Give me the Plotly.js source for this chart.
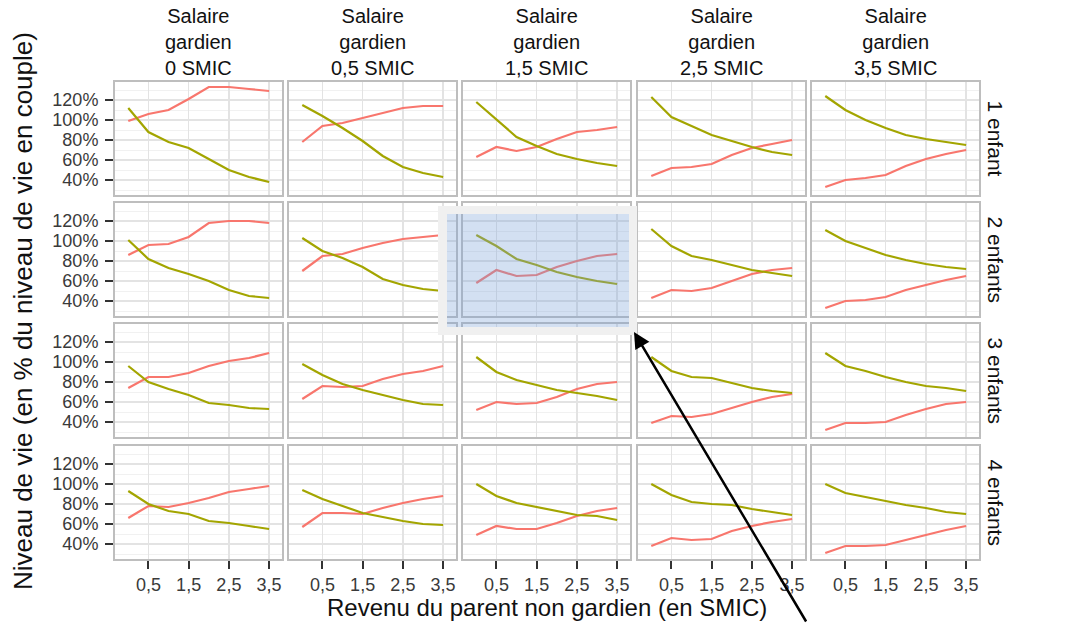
<!DOCTYPE html>
<html>
<head>
<meta charset="utf-8">
<script src="https://cdn.plot.ly/plotly-3.0.1.min.js"></script>
<style>
  html, body { margin: 0; padding: 0; background: #ffffff; }
  #chart { width: 1071px; height: 623px; }
</style>
</head>
<body>
<div id="chart"></div>
<script>
// ---------- DATA ----------
const revenuNonGardien = [0, 0.5, 1, 1.5, 2, 2.5, 3, 3.5];
const colonnes = ["Salaire<br>gardien<br>0 SMIC", "Salaire<br>gardien<br>0,5 SMIC", "Salaire<br>gardien<br>1,5 SMIC", "Salaire<br>gardien<br>2,5 SMIC", "Salaire<br>gardien<br>3,5 SMIC"];
const lignes = ["1 enfant", "2 enfants", "3 enfants", "4 enfants"];
const xTickVals = [0.5, 1.5, 2.5, 3.5];
const xTickText = ["0,5", "1,5", "2,5", "3,5"];
const yTickVals = [40, 60, 80, 100, 120];
const yTickText = ["40%", "60%", "80%", "100%", "120%"];

// Niveau de vie du parent non gardien (rouge), une liste par colonne
const nonGardien_1enfant = [
  [99, 106, 110, 121, 133, 133, 131, 129],
  [78, 94, 97, 102, 107, 112, 114, 114],
  [63, 73, 69, 73, 81, 88, 90, 93],
  [44, 52, 53, 56, 65, 72, 76, 80],
  [33, 40, 42, 45, 54, 61, 66, 70]
];
const nonGardien_2enfants = [
  [86, 96, 97, 104, 118, 120, 120, 118],
  [70, 85, 87, 93, 98, 102, 104, 106],
  [58, 71, 65, 66, 74, 80, 85, 87],
  [43, 51, 50, 53, 60, 67, 71, 73],
  [33, 40, 41, 44, 51, 56, 61, 65]
];
const nonGardien_3enfants = [
  [74, 85, 85, 89, 96, 101, 104, 109],
  [63, 76, 75, 76, 83, 88, 91, 96],
  [52, 60, 58, 59, 65, 73, 78, 80],
  [39, 46, 45, 48, 54, 60, 65, 68],
  [32, 39, 39, 40, 47, 53, 58, 60]
];
const nonGardien_4enfants = [
  [66, 78, 77, 81, 86, 92, 95, 98],
  [57, 71, 71, 70, 76, 81, 85, 88],
  [49, 58, 55, 55, 61, 68, 73, 76],
  [38, 46, 44, 45, 53, 58, 62, 65],
  [31, 38, 38, 39, 44, 49, 54, 58]
];
// Niveau de vie du parent gardien (olive)
const gardien_1enfant = [
  [112, 88, 78, 72, 61, 50, 43, 38],
  [115, 104, 92, 79, 64, 53, 47, 43],
  [118, 100, 83, 74, 66, 61, 57, 54],
  [123, 103, 94, 85, 79, 73, 68, 65],
  [124, 110, 100, 92, 85, 81, 78, 75]
];
const gardien_2enfants = [
  [101, 82, 73, 67, 60, 51, 45, 43],
  [103, 90, 83, 74, 62, 56, 52, 50],
  [106, 95, 82, 76, 69, 64, 60, 57],
  [112, 95, 85, 81, 76, 71, 68, 65],
  [111, 100, 93, 86, 81, 77, 74, 72]
];
const gardien_3enfants = [
  [96, 80, 73, 67, 59, 57, 54, 53],
  [98, 87, 78, 72, 67, 62, 58, 57],
  [105, 90, 82, 77, 72, 69, 66, 62],
  [105, 91, 85, 84, 79, 74, 71, 69],
  [109, 96, 91, 85, 80, 76, 74, 71]
];
const gardien_4enfants = [
  [93, 80, 73, 70, 63, 61, 58, 55],
  [94, 85, 78, 71, 67, 63, 60, 59],
  [100, 88, 81, 77, 73, 69, 68, 64],
  [100, 89, 82, 80, 79, 75, 72, 69],
  [100, 91, 87, 83, 79, 76, 72, 70]
];

// ---------- LAYOUT ----------
const W = 1071, H = 623;
const FONT = "Liberation Sans, Arial, sans-serif";
const px = v => v / W;
const py = v => 1 - v / H;
const colLeft = [115, 289, 463, 638, 812];
const colW = 167;
const rowTop = [82, 203, 324, 446];
const rowH = 113;

const nonGardien = [nonGardien_1enfant, nonGardien_2enfants, nonGardien_3enfants, nonGardien_4enfants];
const gardien = [gardien_1enfant, gardien_2enfants, gardien_3enfants, gardien_4enfants];

const RED = "#F8766D", OLIVE = "#A3A500";
const traces = [];
const layout = {
  width: W, height: H,
  margin: {l: 0, r: 0, t: 0, b: 0},
  paper_bgcolor: "#ffffff",
  plot_bgcolor: "#ffffff",
  showlegend: false,
  font: {family: FONT, color: "#000"},
  annotations: [],
  shapes: []
};

for (let r = 0; r < 4; r++) {
  for (let c = 0; c < 5; c++) {
    const n = r * 5 + c + 1;
    const xs = n === 1 ? "x" : "x" + n;
    const ys = n === 1 ? "y" : "y" + n;
    traces.push({x: revenuNonGardien, y: nonGardien[r][c], xaxis: xs, yaxis: ys,
      type: "scatter", mode: "lines", line: {color: RED, width: 2.2}, hoverinfo: "skip"});
    traces.push({x: revenuNonGardien, y: gardien[r][c], xaxis: xs, yaxis: ys,
      type: "scatter", mode: "lines", line: {color: OLIVE, width: 2.2}, hoverinfo: "skip"});
    const xk = n === 1 ? "xaxis" : "xaxis" + n;
    const yk = n === 1 ? "yaxis" : "yaxis" + n;
    layout[xk] = {
      domain: [px(colLeft[c]), px(colLeft[c] + colW)],
      anchor: ys, range: [-0.33, 3.82],
      tickvals: xTickVals, ticktext: xTickText,
      showticklabels: r === 3, ticks: r === 3 ? "outside" : "",
      ticklen: 8, tickwidth: 2, tickcolor: "#333",
      tickfont: {family: FONT, size: 18, color: "#3a3a3a"},
      showgrid: true, gridcolor: "#E3E3E3", gridwidth: 1.4,
      zeroline: false, showline: true, linecolor: "#BEBEBE", linewidth: 2, mirror: true,
      fixedrange: true
    };
    layout[yk] = {
      domain: [py(rowTop[r] + rowH), py(rowTop[r])],
      anchor: xs, range: [25, 138],
      tickvals: yTickVals, ticktext: yTickText,
      showticklabels: c === 0, ticks: c === 0 ? "outside" : "",
      ticklen: 8, tickwidth: 2, tickcolor: "#333", ticklabelstandoff: 3,
      tickfont: {family: FONT, size: 18, color: "#3a3a3a"},
      showgrid: true, gridcolor: "#E3E3E3", gridwidth: 1.4,
      minor: {tickvals: [30, 50, 70, 90, 110, 130], showgrid: true, gridcolor: "#F1F1F1", gridwidth: 1, ticks: ""},
      zeroline: false, showline: true, linecolor: "#BEBEBE", linewidth: 2, mirror: true,
      fixedrange: true
    };
  }
}

// column strip labels
for (let c = 0; c < 5; c++) {
  layout.annotations.push({
    text: colonnes[c], xref: "paper", yref: "paper",
    x: px(colLeft[c] + colW / 2), y: py(42), xanchor: "center", yanchor: "middle",
    showarrow: false, font: {family: FONT, size: 20, color: "#111"}
  });
}
// row strip labels
for (let r = 0; r < 4; r++) {
  layout.annotations.push({
    text: lignes[r], xref: "paper", yref: "paper",
    x: px(995), y: py(rowTop[r] + rowH / 2), xanchor: "center", yanchor: "middle",
    textangle: 90, showarrow: false, font: {family: FONT, size: 21, color: "#111"}
  });
}
// axis titles
layout.annotations.push({
  text: "Revenu du parent non gardien (en SMIC)", xref: "paper", yref: "paper",
  x: px(547), y: py(607), xanchor: "center", yanchor: "middle",
  showarrow: false, font: {family: FONT, size: 24, color: "#111"}
});
layout.annotations.push({
  text: "Niveau de vie (en % du niveau de vie en couple)", xref: "paper", yref: "paper",
  x: px(23), y: py(311), xanchor: "center", yanchor: "middle", textangle: -90,
  showarrow: false, font: {family: FONT, size: 26, color: "#111"}
});
// arrow
layout.annotations.push({
  text: "", xref: "paper", yref: "paper", x: px(634), y: py(332),
  showarrow: true, ax: 173, ay: 291, axref: "pixel", ayref: "pixel",
  arrowhead: 2, arrowsize: 1.3, arrowwidth: 2.5, arrowcolor: "#000", standoff: 0
});

// highlight frame and blue overlay
const fx0 = px(438), fx1 = px(637), fy0 = py(206), fy1 = py(335);
const ix0 = px(447), ix1 = px(629), iy0 = py(214), iy1 = py(327);
layout.shapes.push({
  type: "path", xref: "paper", yref: "paper", layer: "above", fillrule: "evenodd",
  path: `M${fx0},${fy0} L${fx1},${fy0} L${fx1},${fy1} L${fx0},${fy1} Z M${ix0},${iy0} L${ix1},${iy0} L${ix1},${iy1} L${ix0},${iy1} Z`,
  fillcolor: "#F0F0F0", line: {width: 0}
});
layout.shapes.push({
  type: "rect", xref: "paper", yref: "paper", layer: "above",
  x0: ix0, x1: ix1, y0: iy0, y1: iy1,
  fillcolor: "rgba(120,160,215,0.33)", line: {width: 0}
});

Plotly.newPlot("chart", traces, layout, {displayModeBar: false, staticPlot: true});
</script>
</body>
</html>
